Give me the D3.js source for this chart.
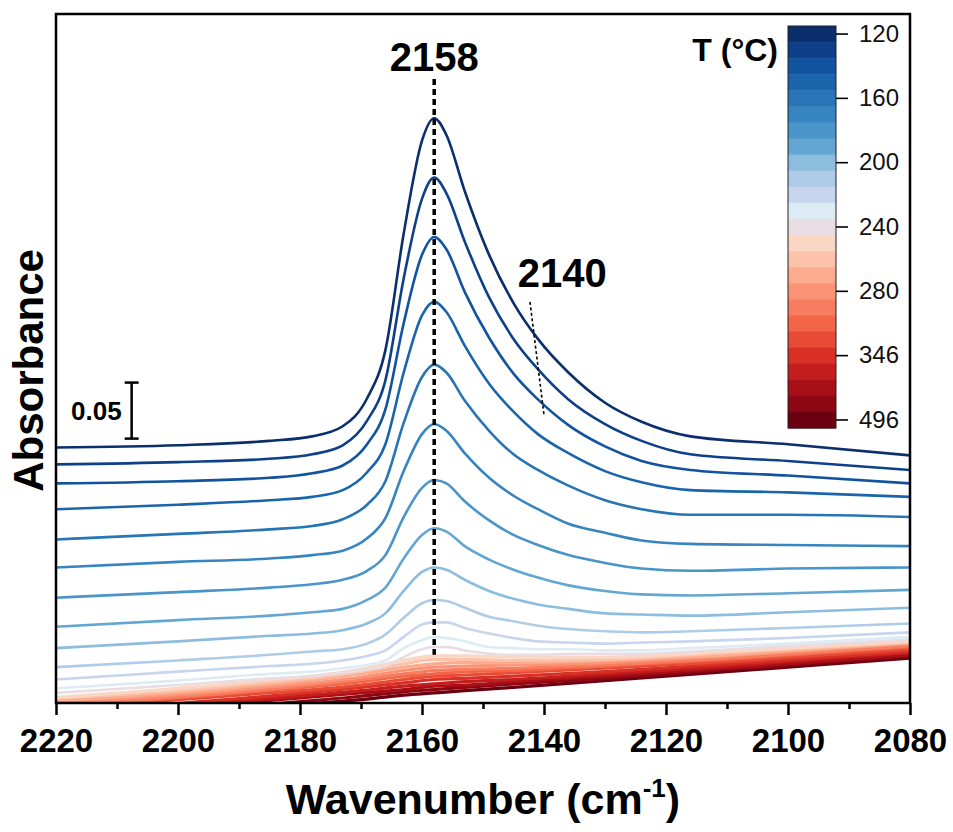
<!DOCTYPE html>
<html lang="en">
<head>
<meta charset="UTF-8">
<title>CO adsorption FTIR vs temperature</title>
<script src="https://d3js.org/d3.v7.min.js"></script>
<style>
    body { margin: 0; background: #fff; }
    svg { font-family: "Liberation Sans", Arial, sans-serif; }
</style>
</head>
<body>
<svg width="953" height="832"></svg>
<script>
// wavenumber grids (cm-1)
const wavenumbers = [2220, 2200, 2185, 2178, 2173, 2169, 2166, 2163, 2160, 2158, 2156, 2153, 2149, 2145, 2141, 2136, 2130, 2124, 2116, 2100, 2080];
const redWavenumbers = [2220, 2190, 2170, 2163, 2158, 2153, 2145, 2130, 2110, 2080];

// temperatures (°C), one spectrum each
const temps = [120, 130, 140, 150, 160, 170, 180, 190, 200, 210, 220, 230, 240,
               250, 260, 270, 280, 297, 313, 330, 346, 383, 421, 458, 496];
const tempTicks = [120, 160, 200, 240, 280, 346, 496];

// absorbance (offset)
const s120 = [.228, .230, .234, .238, .247, .272, .315, .419, .502, .522, .507, .457, .400, .357, .325, .295, .268, .251, .238, .231, .221];
const s130 = [.213, .215, .218, .222, .230, .252, .288, .379, .450, .469, .455, .412, .362, .325, .298, .271, .249, .234, .222, .216, .208];
const s140 = [.196, .198, .201, .205, .212, .231, .262, .339, .400, .416, .405, .367, .326, .294, .271, .248, .229, .216, .208, .203, .196];
const s150 = [.173, .177, .181, .184, .190, .206, .231, .295, .346, .358, .349, .319, .285, .260, .240, .223, .207, .197, .190, .188, .184];
const s160 = [.146, .151, .155, .158, .164, .177, .198, .250, .291, .302, .295, .270, .243, .222, .208, .194, .181, .173, .168, .168, .166];
const s170 = [.121, .126, .129, .132, .136, .147, .165, .207, .240, .249, .243, .223, .201, .185, .173, .160, .152, .145, .142, .141, .140];
const s180 = [.094, .099, .103, .106, .110, .118, .132, .166, .192, .199, .196, .180, .163, .150, .141, .132, .125, .120, .118, .120, .121];
const s190 = [.068, .074, .078, .081, .084, .092, .103, .129, .150, .156, .153, .140, .128, .119, .112, .105, .100, .097, .096, .098, .101];
const s200 = [.049, .055, .060, .062, .065, .071, .080, .100, .117, .121, .119, .110, .100, .093, .088, .084, .080, .079, .078, .081, .085];
const s210 = [.032, .038, .043, .046, .048, .053, .061, .076, .089, .092, .091, .085, .077, .073, .069, .066, .064, .063, .064, .067, .071];
const s220 = [.021, .028, .033, .035, .038, .042, .047, .059, .070, .072, .072, .067, .062, .058, .055, .054, .053, .054, .055, .058, .063];
const s230 = [.013, .020, .026, .028, .031, .034, .038, .049, .056, .059, .058, .055, .050, .049, .048, .048, .047, .047, .049, .053, .059];
const s240 = [.009, .016, .022, .024, .027, .030, .033, .041, .048, .050, .050, .047, .044, .043, .043, .044, .044, .044, .046, .051, .057];

const s250 = [.005, .018, .030, .038, .042, .042, .041, .041, .046, .055];
const s260 = [.004, .016, .028, .035, .039, .039, .038, .039, .045, .054];
const s270 = [.002, .014, .026, .032, .035, .036, .036, .038, .043, .054];
const s280 = [.000, .012, .023, .029, .032, .033, .034, .036, .042, .053];
const s297 = [-.002, .010, .021, .026, .029, .030, .031, .034, .040, .051];
const s313 = [-.004, .009, .019, .024, .026, .028, .029, .033, .039, .050];
const s330 = [-.005, .007, .016, .021, .024, .025, .027, .031, .037, .048];
const s346 = [-.008, .004, .014, .018, .021, .022, .024, .028, .035, .046];
const s383 = [-.011, .002, .011, .015, .017, .019, .021, .026, .033, .045];
const s421 = [-.013, .000, .009, .012, .015, .016, .019, .024, .031, .043];
const s458 = [-.015, -.003, .006, .010, .012, .014, .017, .022, .030, .042];
const s496 = [-.018, -.005, .003, .007, .009, .011, .014, .020, .028, .040];

const blueSpectra = [s120, s130, s140, s150, s160, s170, s180, s190, s200, s210, s220, s230, s240];
const redSpectra = [s250, s260, s270, s280, s297, s313, s330, s346, s383, s421, s458, s496];

// colour of each temperature step (matches the colour bar)
const palette = ["#0b2f6c", "#0d4089", "#12539f", "#1a64ac", "#2775b6", "#3685c0", "#4994c9",
                 "#63a6d2", "#8cbddf", "#aecce8", "#c8d5ee", "#dcebf4", "#e9dde3",
                 "#fad6c4", "#fcc2aa", "#fcab8f", "#fb9476", "#f87c5f", "#f36547", "#e94a35",
                 "#d93025", "#c41d1e", "#a90f17", "#8d0613", "#6b0010"];

const FONT = '"Liberation Sans", Arial, sans-serif';
const svg = d3.select("svg");
const x = d3.scaleLinear().domain([2220, 2080]).range([56, 910]);
const y = d3.scaleLinear().domain([0, 0.615]).range([703, 14]);
const color = d3.scaleOrdinal(temps, palette);

svg.append("defs").append("clipPath").attr("id", "plot")
    .append("rect")
    .attr("x", x(2220)).attr("y", y(0.615))
    .attr("width", x(2080) - x(2220)).attr("height", y(0) - y(0.615));

const plot = svg.append("g").attr("clip-path", "url(#plot)");

const series = [];
blueSpectra.forEach((vals, i) => series.push({ t: temps[i], grid: wavenumbers, vals: vals, w: 2.6 }));
redSpectra.forEach((vals, i) => series.push({ t: temps[i + 13], grid: redWavenumbers, vals: vals, w: 3.2 }));

const line = d3.line().curve(d3.curveMonotoneX);

// draw hottest first so the coolest (navy) sits on top
plot.selectAll("path.spec")
    .data(series.slice().reverse())
    .enter().append("path")
    .attr("class", "spec")
    .attr("fill", "none")
    .attr("stroke", d => color(d.t))
    .attr("stroke-width", d => d.w)
    .attr("stroke-linejoin", "round")
    .attr("d", d => line(d.vals.map((v, i) => [x(d.grid[i]), y(v)])));

// peak guide at 2158
svg.append("line")
    .attr("x1", x(2158)).attr("x2", x(2158))
    .attr("y1", y(0.557)).attr("y2", y(0.043))
    .attr("stroke", "#000").attr("stroke-width", 3.5)
    .attr("stroke-dasharray", "6,4");

svg.append("text")
    .attr("x", x(2158)).attr("y", y(0.564))
    .attr("text-anchor", "middle")
    .attr("font-size", 40).attr("font-weight", "bold")
    .text("2158");

// shoulder at 2140
svg.append("line")
    .attr("x1", x(2142.3)).attr("y1", y(0.358))
    .attr("x2", x(2140)).attr("y2", y(0.257))
    .attr("stroke", "#000").attr("stroke-width", 1.6)
    .attr("stroke-dasharray", "3,2.5");

svg.append("text")
    .attr("x", x(2137)).attr("y", y(0.371))
    .attr("text-anchor", "middle")
    .attr("font-size", 40).attr("font-weight", "bold")
    .text("2140");

// 0.05 scale bar
const barX = x(2207.6);
const bar = svg.append("g").attr("stroke", "#000").attr("stroke-width", 2.5);
bar.append("line").attr("x1", barX).attr("x2", barX).attr("y1", y(0.236)).attr("y2", y(0.286));
bar.append("line").attr("x1", barX - 7).attr("x2", barX + 7).attr("y1", y(0.236)).attr("y2", y(0.236));
bar.append("line").attr("x1", barX - 7).attr("x2", barX + 7).attr("y1", y(0.286)).attr("y2", y(0.286));
svg.append("text")
    .attr("x", barX - 10).attr("y", y(0.2527))
    .attr("text-anchor", "end")
    .attr("font-size", 26).attr("font-weight", "bold")
    .text("0.05");

// x axis
const majorTicks = d3.range(2220, 2079, -20);
const minorTicks = d3.range(2210, 2080, -20);

const xMinor = svg.append("g")
    .attr("transform", `translate(0,${y(0)})`)
    .call(d3.axisBottom(x).tickValues(minorTicks).tickSize(6).tickFormat(""));
xMinor.select(".domain").remove();
xMinor.selectAll("line").attr("stroke-width", 2.5);

const xMajor = svg.append("g")
    .attr("transform", `translate(0,${y(0)})`)
    .call(d3.axisBottom(x).tickValues(majorTicks).tickSize(12).tickPadding(14).tickFormat(d3.format("d")));
xMajor.attr("font-family", FONT).attr("font-size", 33).attr("font-weight", "bold");
xMajor.select(".domain").remove();
xMajor.selectAll("line").attr("stroke-width", 2.5);
xMajor.selectAll("text").attr("fill", "#000");

// frame
svg.append("rect")
    .attr("x", x(2220)).attr("y", y(0.615))
    .attr("width", x(2080) - x(2220)).attr("height", y(0) - y(0.615))
    .attr("fill", "none").attr("stroke", "#000").attr("stroke-width", 2.5);

// axis titles
const xTitle = svg.append("text")
    .attr("x", (x(2220) + x(2080)) / 2).attr("y", 814)
    .attr("text-anchor", "middle")
    .attr("font-size", 43).attr("font-weight", "bold");
xTitle.append("tspan").text("Wavenumber (cm");
xTitle.append("tspan").attr("font-size", 26).attr("dy", -17).text("-1");
xTitle.append("tspan").attr("dy", 17).text(")");

svg.append("text")
    .attr("transform", `translate(43,${(y(0) + y(0.615)) / 2 + 12}) rotate(-90)`)
    .attr("text-anchor", "middle")
    .attr("font-size", 42).attr("font-weight", "bold")
    .text("Absorbance");

// colour bar
const cb = d3.scaleBand().domain(temps).range([26, 428]);
const cbX = 788, cbW = 48;
const cbar = svg.append("g");
cbar.selectAll("rect.seg")
    .data(temps)
    .enter().append("rect")
    .attr("class", "seg")
    .attr("x", cbX).attr("y", d => cb(d))
    .attr("width", cbW).attr("height", cb.bandwidth() + 0.5)
    .attr("fill", d => color(d));
cbar.append("rect")
    .attr("x", cbX).attr("y", 26).attr("width", cbW).attr("height", 402)
    .attr("fill", "none").attr("stroke", "#222").attr("stroke-width", 1);

const cbAxis = cbar.append("g")
    .attr("transform", `translate(${cbX + cbW},0)`)
    .call(d3.axisRight(cb).tickValues(tempTicks).tickSize(12).tickPadding(11));
cbAxis.attr("font-family", FONT).attr("font-size", 24);
cbAxis.select(".domain").remove();
cbAxis.selectAll("line").attr("stroke-width", 1.6);
cbAxis.selectAll("text").attr("fill", "#111");

svg.append("text")
    .attr("x", 778).attr("y", 61)
    .attr("text-anchor", "end")
    .attr("font-size", 32).attr("font-weight", "bold")
    .text("T (°C)");
</script>
</body>
</html>
